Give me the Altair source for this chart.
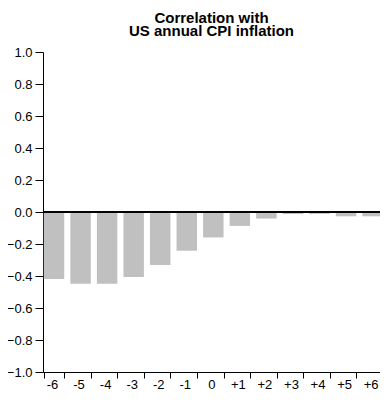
import altair as alt
import pandas as pd

lags = ["-6", "-5", "-4", "-3", "-2", "-1", "0", "+1", "+2", "+3", "+4", "+5", "+6"]
corr = [-0.418, -0.449, -0.449, -0.406, -0.331, -0.242, -0.159, -0.087, -0.041, -0.012, -0.012, -0.027, -0.027]
title_lines = ["Correlation with", "US annual CPI inflation"]
y_ticks = [-1.0, -0.8, -0.6, -0.4, -0.2, 0.0, 0.2, 0.4, 0.6, 0.8, 1.0]

df = pd.DataFrame({"lag": lags, "corr": corr})

FONT = "Liberation Sans"
X_EXTENT = 340.6  # band range; the page edge clips the last few pixels

y_axis = alt.Axis(title=None, values=y_ticks, format=".1f", grid=False,
                  labelFont=FONT, labelFontSize=13, labelColor="black",
                  labelOverlap=False, labelBound=False,
                  tickColor="black", domainColor="black", tickSize=8,
                  labelPadding=3)
y_scale = alt.Scale(domain=[-1, 1], nice=False)

bars = alt.Chart(df).mark_bar(color="#c0c0c0").encode(
    x=alt.X("lag:N", sort=lags,
            scale=alt.Scale(range=[0, X_EXTENT], paddingInner=0.23, paddingOuter=0.03),
            axis=alt.Axis(title=None, labelAngle=0, tickBand="extent",
                          labelFont=FONT, labelFontSize=13, labelColor="black",
                          labelOffset=-2, tickColor="black", domainColor="black",
                          tickSize=6, labelPadding=0, labelBound=False)),
    y=alt.Y("corr:Q", scale=y_scale, axis=y_axis),
)

rule = alt.Chart(df).mark_rule(color="black", strokeWidth=1).encode(
    y=alt.YDatum(0, scale=y_scale, axis=y_axis),
    x=alt.value(0),
    x2=alt.value(X_EXTENT),
)

chart = (bars + rule).properties(
    width=337, height=320,
    title=alt.TitleParams(title_lines, font=FONT, fontSize=15, fontWeight="bold",
                          anchor="middle", frame="group", offset=7, lineHeight=13,
                          color="black"),
    autosize=alt.AutoSizeParams(type="none"),
    padding={"left": 35, "top": 44, "right": 0, "bottom": 18},
).configure_view(stroke=None)

chart.save("out.html", embed_options={"renderer": "svg", "actions": False})
